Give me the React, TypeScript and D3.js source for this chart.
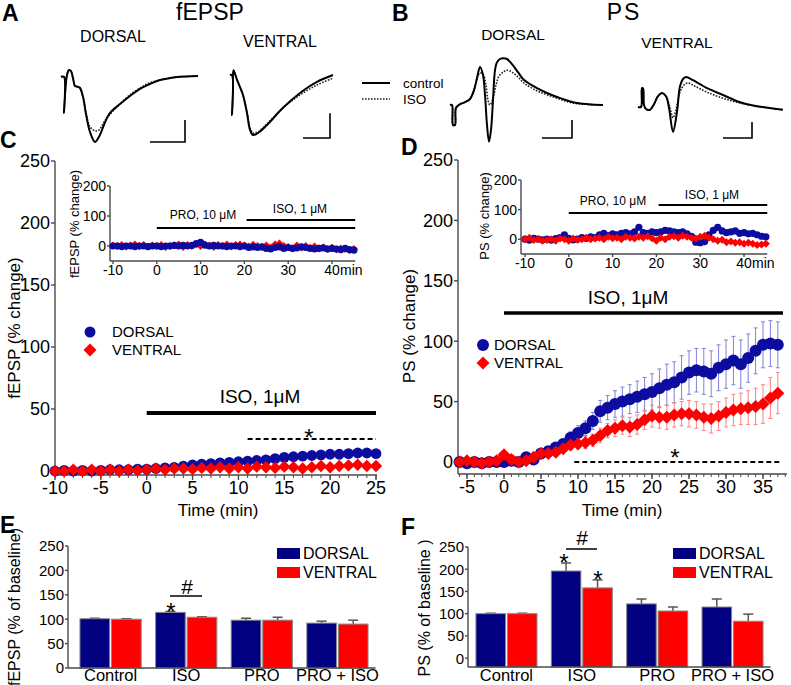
import React from 'react';
import * as d3 from 'd3';

const FONT = "'Liberation Sans', Arial, Helvetica, sans-serif";
const AXIS = '#4a4a4a';
const BAR_BLUE = '#000080';
const MARK_BLUE = '#0c0ca0';
const RED = '#ff0000';
const ERR_BLUE = '#8080dc';
const ERR_RED = '#ff8080';

// ---------- Panel A / B traces: [time (a.u.), amplitude (a.u.)] ----------
const aDorsalControl: [number, number][] = [[0,-0.02],[0.6,-0.02],[0.6,-0.92],[0.8,-0.47],[1.2,0.02],[1.6,0.15],[2.0,0.12],[2.4,-0.05],[2.8,-0.25],[3.4,-0.27],[3.8,-0.3],[4.4,-0.52],[5.0,-0.95],[5.8,-1.4],[6.8,-1.65],[7.6,-1.52],[8.6,-1.22],[9.4,-1.0],[10.2,-0.87],[11.8,-0.7],[13.8,-0.5],[15.8,-0.32],[17.8,-0.2],[19.8,-0.1],[21.8,-0.05],[23.8,-0.02],[27.4,0]];
const aDorsalIso: [number, number][] = [[0,-0.02],[0.6,-0.02],[0.6,-0.92],[0.8,-0.47],[1.2,0.02],[1.6,0.15],[2.0,0.12],[2.4,-0.05],[2.8,-0.25],[3.4,-0.27],[3.8,-0.3],[4.4,-0.52],[5.0,-0.92],[5.8,-1.27],[6.8,-1.37],[7.6,-1.35],[8.6,-1.15],[9.4,-1.02],[10.2,-0.9],[11.8,-0.7],[13.8,-0.47],[15.8,-0.3],[17.8,-0.17],[19.8,-0.1],[23.8,-0.02],[27.4,0]];
const aVentralControl: [number, number][] = [[0,0],[0.4,0],[0.4,-1.0],[0.6,-0.37],[0.7,0.12],[1.4,-0.12],[2.0,-0.3],[2.6,-0.5],[3.4,-0.95],[4.0,-1.37],[4.6,-1.5],[5.6,-1.45],[7.4,-1.25],[10.6,-0.82],[14,-0.45],[17.4,-0.17],[20.6,0]];
const aVentralIso: [number, number][] = [[0,0],[0.4,0],[0.4,-1.0],[0.6,-0.37],[0.7,0.12],[1.4,-0.12],[2.0,-0.3],[2.6,-0.5],[3.4,-0.93],[4.0,-1.32],[4.6,-1.45],[5.6,-1.42],[7.4,-1.22],[10.6,-0.82],[14,-0.5],[17.4,-0.25],[20.6,-0.08]];
const bDorsalControl: [number, number][] = [[0,0],[0.4,0],[0.6,-0.5],[1.0,-0.5],[1.2,-0.07],[2,0.02],[3,0.07],[4,0.15],[4.8,0.37],[5.4,0.67],[6,0.95],[6.6,0.75],[7,0.25],[7.4,-0.5],[7.8,-0.92],[8.2,-0.62],[8.6,0.12],[9,0.87],[9.4,1.07],[10,1.15],[10.6,1.17],[11.4,1.15],[12.4,1.02],[13.6,0.82],[14.6,0.65],[16,0.52],[17.4,0.42],[19.4,0.3],[21.4,0.2],[24.6,0.07],[27.6,0.02],[30.6,0]];
const bDorsalIso: [number, number][] = [[0,0],[0.4,0],[0.6,-0.5],[1.0,-0.5],[1.2,-0.07],[2,0.02],[3,0.07],[4,0.15],[4.8,0.37],[5.4,0.67],[6,0.8],[6.6,0.77],[7.2,0.5],[7.6,0.12],[8,0],[8.6,0.17],[9.2,0.5],[9.8,0.72],[10.6,0.82],[11.4,0.87],[12.4,0.82],[13.6,0.7],[14.6,0.57],[16,0.45],[18,0.32],[21.4,0.17],[24.6,0.05],[30.6,0]];
const bVentralControl: [number, number][] = [[0,0],[0.6,0],[0.8,0.47],[1.0,0.47],[1.2,0.05],[1.6,-0.05],[2.4,-0.07],[3.2,0.07],[4.0,0.27],[4.8,0.35],[5.6,0.27],[6.2,-0.02],[7,-0.62],[7.8,-0.12],[8.4,0.52],[9,0.7],[9.6,0.75],[11,0.67],[12.4,0.57],[13.8,0.47],[17,0.3],[20.4,0.12],[23.8,0.02],[29,-0.07]];
const bVentralIso: [number, number][] = [[0,0],[0.6,0],[0.8,0.47],[1.0,0.47],[1.2,0.05],[1.6,-0.05],[2.4,-0.07],[3.2,0.07],[4.0,0.27],[4.8,0.35],[5.6,0.27],[6.4,-0.02],[7,-0.27],[7.6,-0.07],[8.4,0.37],[9.2,0.55],[10,0.6],[11.4,0.52],[13.8,0.37],[17,0.22],[20.4,0.1],[23.8,0.02],[29,-0.07]];

// ---------- Panel C ----------
const cMainTime = d3.range(-10, 26, 1);
const cMainDorsal = [0,0.5,0,0.5,0,0.5,1,1,1,1.5,1.5,2,2.5,3,4,5,5.5,6,6.5,7,7.5,8,8.5,9,10,11,11.5,12,12.5,13,13.5,13.5,14,14.5,14.5,14];
const cMainVentral = [0,0,1,0,1,0,1,0,1,0.5,1,2,1,2,2,1.5,2.5,2,3,2,3,2,3.5,3,2.5,3.5,3,2,3,4,3,4,4.5,5,4,4];
const insetTime = d3.range(-10, 46, 1);
const cInsetDorsal = [0,0,-2,0,0,-2,0,0,-2,0, 0,-2,0,0,2,0,2,0,2,8, 12,3,0,2,0,0,-2,0,0,-2, 0,-5,-3,-5,-3,-8,-10,-5,-3,-8, -5,-8,-6,-3,-5,-8,-10,-8,-6,-10, -8,-10,-12,-8,-12,-14];
const cInsetVentral = [2,0,3,-2,2,5,0,3,-2,2, 0,3,-3,0,2,5,-3,3,0,5, 0,5,2,-3,3,0,5,-2,3,5, 2,-2,4,0,-3,2,-5,5,8,0, -3,-8,2,-5,0,-6,-2,-8,-5,-10, -6,-12,-8,-10,-14,-10];

// ---------- Panel D ----------
const dMainTime = d3.range(-6, 38, 1);
const dMainDorsal = [0,-1,0,-1,0,0,0,1,0,4, 2,7,9,12,15,20,24,28,34,42, 45,48,50,52,54,56,58,61,64,66, 70,74,76,75,73,78,81,84,81,86, 92,97,98,97];
const dMainDorsalErr = [1,1,1,1,1,1,2,2,2,2, 3,3,3,4,4,5,6,6,7,9, 10,11,12,12,13,14,15,16,17,17, 18,18,18,19,19,19,20,20,20,20, 19,19,19,19];
const dMainVentral = [0,1,0,-1,0,1,6,2,0,1, 4,7,7,8,11,14,15,16,18,22, 26,28,30,29,31,35,38,37,37,39, 40,40,39,37,36,38,41,43,44,45, 46,48,53,57];
const dMainVentralErr = [1,1,1,1,1,1,2,2,2,2, 2,3,3,3,3,4,4,5,5,6, 6,7,7,8,8,8,9,9,10,10, 10,11,11,11,12,12,12,13,13,14, 15,16,17,17];
const dInsetDorsal = [0,-3,3,0,-2,0,-3,2,5,15, 3,-2,0,5,3,8,5,15,20,12, 18,15,20,22,18,25,40,22,20,25, 22,25,30,28,25,22,25,18,10,-10, -12,-8,15,30,40,28,22,25,28,20, 22,18,20,15,10,8];
const dInsetVentral = [0,5,-3,0,-5,-3,0,-5,2,0, -5,2,-2,0,5,0,2,5,0,8, 3,5,0,8,5,2,8,5,10,3, -5,5,0,8,10,5,12,8,5,2, 8,12,5,0,-5,-2,-10,-8,-12,-10, -15,-12,-15,-20,-18,-15];

// ---------- Panels E / F ----------
const barCategories = ['Control', 'ISO', 'PRO', 'PRO + ISO'];
const eDorsal = [101, 114, 98, 92];
const eDorsalErr = [1, 2, 4, 4];
const eVentral = [100, 104, 98, 90];
const eVentralErr = [1, 1, 6, 8];
const fDorsal = [100, 196, 122, 115];
const fDorsalErr = [1, 18, 11, 18];
const fVentral = [100, 158, 106, 83];
const fVentralErr = [1, 18, 9, 16];
const barTicks = [0, 50, 100, 150, 200, 250];

// ---------- helpers ----------
const diamondPath = (cx: number, cy: number, h: number) =>
  `M${cx},${cy - h}L${cx + h},${cy}L${cx},${cy + h}L${cx - h},${cy}Z`;

function Trace({ solid, dotted, x0, y0, corner, bar }: any) {
  const xs = d3.scaleLinear().domain([0, 1]).range([x0, x0 + 5]);
  const ys = d3.scaleLinear().domain([0, 1]).range([y0, y0 - 40]);
  const line = d3.line<[number, number]>().x(d => xs(d[0])).y(d => ys(d[1])).curve(d3.curveCatmullRom.alpha(0.5));
  const bw = xs(bar[0]) - xs(0);
  const bh = ys(0) - ys(bar[1]);
  return (
    <g fill="none">
      <path d={line(dotted) || ''} stroke="#222" strokeWidth={1.6} strokeDasharray="1.6 1.4" />
      <path d={line(solid) || ''} stroke="#000" strokeWidth={2} />
      <path d={`M${corner[0] - bw},${corner[1]}H${corner[0]}V${corner[1] - bh}`} stroke="#000" strokeWidth={1.6} />
    </g>
  );
}

function YAxis({ x, yTop, yBot, scale, ticks, fs, tick = 4 }: any) {
  return (
    <g>
      <line x1={x} x2={x} y1={yTop} y2={yBot} stroke={AXIS} strokeWidth={1.4} />
      {ticks.map((t: number) => (
        <g key={t}>
          <line x1={x - tick} x2={x} y1={scale(t)} y2={scale(t)} stroke={AXIS} strokeWidth={1.4} />
          <text x={x - tick - 1} y={scale(t)} dy="0.36em" textAnchor="end" fontSize={fs}>{t}</text>
        </g>
      ))}
    </g>
  );
}

function XAxis({ y, xL, xR, scale, ticks, minor, fs, labelY, tick = 5 }: any) {
  return (
    <g>
      <line x1={xL} x2={xR} y1={y} y2={y} stroke={AXIS} strokeWidth={1.4} />
      {(minor || []).map((t: number) => (
        <line key={'m' + t} x1={scale(t)} x2={scale(t)} y1={y} y2={y + 3} stroke={AXIS} strokeWidth={1} />
      ))}
      {ticks.map((t: number) => (
        <g key={t}>
          <line x1={scale(t)} x2={scale(t)} y1={y} y2={y + tick} stroke={AXIS} strokeWidth={1.4} />
          <text x={scale(t)} y={labelY} textAnchor="middle" fontSize={fs}>{t}</text>
        </g>
      ))}
    </g>
  );
}

function Markers({ time, values, xs, ys, shape, r, color }: any) {
  return (
    <g fill={color}>
      {values.map((v: number, i: number) =>
        shape === 'circle'
          ? <circle key={i} cx={xs(time[i])} cy={ys(v)} r={r} />
          : <path key={i} d={diamondPath(xs(time[i]), ys(v), r)} />
      )}
    </g>
  );
}

function ErrorBars({ time, values, errs, xs, ys, color }: any) {
  return (
    <g stroke={color} strokeWidth={1}>
      {values.map((v: number, i: number) => {
        const x = xs(time[i]);
        const y1 = ys(v + errs[i]);
        const y2 = ys(v - errs[i]);
        return (
          <g key={i}>
            <line x1={x} x2={x} y1={y1} y2={y2} />
            <line x1={x - 2} x2={x + 2} y1={y1} y2={y1} />
            <line x1={x - 2} x2={x + 2} y1={y2} y2={y2} />
          </g>
        );
      })}
    </g>
  );
}

function Inset({ ox, oy, xAt, yAt, label, dorsal, ventral, labelX, labelY, proY, isoY, proText, isoText, minX, minY }: any) {
  const xs = d3.scaleLinear().domain([-10, 40]).range(xAt);
  const ys = d3.scaleLinear().domain([-50, 200]).range(yAt);
  return (
    <g>
      <YAxis x={ox} yTop={ys(200)} yBot={ys(-50)} scale={ys} ticks={[0, 100, 200]} fs={14} tick={3} />
      <XAxis y={oy} xL={ox} xR={xs(45.3)} scale={xs} ticks={[-10, 0, 10, 20, 30, 40]} fs={14} labelY={minY} tick={3} />
      <text x={minX} y={minY} fontSize={14}>min</text>
      <text transform={`translate(${labelX},${labelY}) rotate(-90)`} textAnchor="middle" fontSize={13}>{label}</text>
      <line x1={xs(0)} x2={xs(45.3)} y1={proY} y2={proY} stroke="#000" strokeWidth={2.2} />
      <line x1={xs(20.5)} x2={xs(45.3)} y1={isoY} y2={isoY} stroke="#000" strokeWidth={2.2} />
      <text x={proText[0]} y={proText[1]} textAnchor="middle" fontSize={12}>PRO, 10 μM</text>
      <text x={isoText[0]} y={isoText[1]} textAnchor="middle" fontSize={12}>ISO, 1 μM</text>
      {ventral.onTop ? (
        <>
          <Markers time={insetTime} values={dorsal.values} xs={xs} ys={ys} shape="circle" r={3.6} color={MARK_BLUE} />
          <Markers time={insetTime} values={ventral.values} xs={xs} ys={ys} shape="diamond" r={4} color={RED} />
        </>
      ) : (
        <>
          <Markers time={insetTime} values={ventral.values} xs={xs} ys={ys} shape="diamond" r={4} color={RED} />
          <Markers time={insetTime} values={dorsal.values} xs={xs} ys={ys} shape="circle" r={3.6} color={MARK_BLUE} />
        </>
      )}
    </g>
  );
}

function BarPanel({ x0, x1, yScale, axisX, axisBottom, dorsal, dErr, ventral, vErr, labelY }: any) {
  const outer = d3.scaleBand().domain(barCategories).range([x0, x1]).paddingInner(0.19).paddingOuter(0.1);
  const inner = d3.scaleBand().domain(['D', 'V']).range([0, outer.bandwidth()]).paddingInner(0.06);
  const base = yScale(yScale.domain()[0]);
  const bars = (vals: number[], errs: number[], key: string, color: string) =>
    barCategories.map((c, i) => {
      const bx = (outer(c) as number) + (inner(key) as number);
      const w = inner.bandwidth();
      const top = yScale(vals[i]);
      const et = yScale(vals[i] + errs[i]);
      return (
        <g key={key + c}>
          <line x1={bx + w / 2} x2={bx + w / 2} y1={top} y2={et} stroke="#555" strokeWidth={1.5} />
          <line x1={bx + w / 2 - 5} x2={bx + w / 2 + 5} y1={et} y2={et} stroke="#555" strokeWidth={1.5} />
          <rect x={bx} y={top} width={w} height={base - top} fill={color} stroke="#8a8a8a" strokeWidth={1} />
        </g>
      );
    });
  return (
    <g>
      {bars(dorsal, dErr, 'D', BAR_BLUE)}
      {bars(ventral, vErr, 'V', RED)}
      <YAxis x={axisX} yTop={yScale(250)} yBot={axisBottom} scale={yScale} ticks={barTicks} fs={15} tick={3} />
      <line x1={axisX} x2={x1} y1={axisBottom} y2={axisBottom} stroke={AXIS} strokeWidth={1.4} />
      {barCategories.map(c => (
        <text key={c} x={(outer(c) as number) + outer.bandwidth() / 2} y={labelY} textAnchor="middle" fontSize={16.5}>{c}</text>
      ))}
    </g>
  );
}

function BarLegend({ x, y }: any) {
  return (
    <g fontSize={16}>
      <rect x={x} y={y} width={23} height={11} fill={BAR_BLUE} />
      <text x={x + 26} y={y + 11}>DORSAL</text>
      <rect x={x} y={y + 19} width={23} height={11} fill={RED} />
      <text x={x + 26} y={y + 30}>VENTRAL</text>
    </g>
  );
}

export default function App() {
  const cx = d3.scaleLinear().domain([-10, 25]).range([55, 376]);
  const cy = d3.scaleLinear().domain([0, 250]).range([471, 161]);
  const dx = d3.scaleLinear().domain([-5, 35]).range([467, 763]);
  const dy = d3.scaleLinear().domain([0, 250]).range([462, 160]);
  const ey = d3.scaleLinear().domain([0, 250]).range([668, 546]);
  const fy = d3.scaleLinear().domain([-20, 250]).range([667, 547]);

  return (
    <svg width={791} height={685} style={{ position: 'absolute', left: 0, top: 0, background: '#fff' }}
      fontFamily={FONT} fill="#000">
      <g fontSize={23} fontWeight="bold">
        <text x={2} y={21}>A</text>
        <text x={392} y={21}>B</text>
        <text x={0} y={148}>C</text>
        <text x={401} y={155}>D</text>
        <text x={0} y={533}>E</text>
        <text x={401} y={535}>F</text>
      </g>

      {/* Panel A */}
      <text x={210} y={20} textAnchor="middle" fontSize={23}>fEPSP</text>
      <text x={113} y={42} textAnchor="middle" fontSize={16}>DORSAL</text>
      <text x={280} y={47} textAnchor="middle" fontSize={16}>VENTRAL</text>
      <Trace solid={aDorsalControl} dotted={aDorsalIso} x0={61} y0={76} corner={[185, 142]} bar={[7, 0.55]} />
      <Trace solid={aVentralControl} dotted={aVentralIso} x0={230} y0={75} corner={[330, 138]} bar={[5.4, 0.62]} />
      <line x1={362} x2={390} y1={83} y2={83} stroke="#000" strokeWidth={2} />
      <line x1={362} x2={390} y1={99} y2={99} stroke="#222" strokeWidth={1.6} strokeDasharray="1.6 1.4" />
      <text x={403} y={88} fontSize={13.5}>control</text>
      <text x={403} y={104} fontSize={13.5}>ISO</text>

      {/* Panel B */}
      <text x={624} y={20} textAnchor="middle" fontSize={23} letterSpacing={2}>PS</text>
      <text x={513} y={40} textAnchor="middle" fontSize={15.5}>DORSAL</text>
      <text x={677} y={48} textAnchor="middle" fontSize={15.5}>VENTRAL</text>
      <Trace solid={bDorsalControl} dotted={bDorsalIso} x0={450} y0={105} corner={[572, 138]} bar={[6, 0.45]} />
      <Trace solid={bVentralControl} dotted={bVentralIso} x0={638} y0={107} corner={[752, 138]} bar={[5.8, 0.4]} />

      {/* Panel C main */}
      <YAxis x={55} yTop={161} yBot={475} scale={cy} ticks={[0, 50, 100, 150, 200, 250]} fs={18} tick={4} />
      <XAxis y={475} xL={55} xR={377} scale={cx} ticks={[-10, -5, 0, 5, 10, 15, 20, 25]} minor={d3.range(-10, 26)} fs={18} labelY={494} />
      <text x={218} y={516} textAnchor="middle" fontSize={17}>Time (min)</text>
      <text transform="translate(20,328) rotate(-90)" textAnchor="middle" fontSize={17}>fEPSP (% change)</text>
      <line x1={cx(0)} x2={cx(25)} y1={413} y2={413} stroke="#000" strokeWidth={4} />
      <text x={260} y={403} textAnchor="middle" fontSize={19}>ISO, 1μM</text>
      <line x1={cx(11)} x2={cx(25)} y1={439} y2={439} stroke="#000" strokeWidth={2} strokeDasharray="5 3" />
      <text x={309} y={446} textAnchor="middle" fontSize={24}>*</text>
      <Markers time={cMainTime} values={cMainDorsal} xs={cx} ys={cy} shape="circle" r={5.4} color={MARK_BLUE} />
      <Markers time={cMainTime} values={cMainVentral} xs={cx} ys={cy} shape="diamond" r={6.2} color={RED} />
      <g fontSize={15}>
        <circle cx={90} cy={332} r={5.5} fill={MARK_BLUE} />
        <text x={112} y={337}>DORSAL</text>
        <path d={diamondPath(90, 350, 6.5)} fill={RED} />
        <text x={112} y={355}>VENTRAL</text>
      </g>
      <Inset ox={110} oy={261} xAt={[113, 332]} yAt={[261, 186]} label="fEPSP (% change)"
        dorsal={{ values: cInsetDorsal }} ventral={{ values: cInsetVentral, onTop: false }}
        labelX={79} labelY={224} proY={228} isoY={220} proText={[203, 219]} isoText={[300, 213]}
        minX={340} minY={275} />

      {/* Panel D main */}
      <YAxis x={458} yTop={160} yBot={474} scale={dy} ticks={[0, 50, 100, 150, 200, 250]} fs={18} tick={4} />
      <XAxis y={474} xL={458} xR={787} scale={dx} ticks={[-5, 0, 5, 10, 15, 20, 25, 30, 35]} minor={d3.range(-6, 39)} fs={18} labelY={493} />
      <text x={622} y={516} textAnchor="middle" fontSize={17}>Time (min)</text>
      <text transform="translate(415,326) rotate(-90)" textAnchor="middle" fontSize={17}>PS (% change)</text>
      <line x1={dx(0)} x2={783} y1={313} y2={313} stroke="#000" strokeWidth={3.5} />
      <text x={628} y={304} textAnchor="middle" fontSize={19}>ISO, 1μM</text>
      <line x1={dx(9.5)} x2={781} y1={462} y2={462} stroke="#000" strokeWidth={2} strokeDasharray="5 3" />
      <text x={675} y={466} textAnchor="middle" fontSize={24}>*</text>
      <ErrorBars time={dMainTime} values={dMainDorsal} errs={dMainDorsalErr} xs={dx} ys={dy} color={ERR_BLUE} />
      <ErrorBars time={dMainTime} values={dMainVentral} errs={dMainVentralErr} xs={dx} ys={dy} color={ERR_RED} />
      <Markers time={dMainTime} values={dMainDorsal} xs={dx} ys={dy} shape="circle" r={6} color={MARK_BLUE} />
      <Markers time={dMainTime} values={dMainVentral} xs={dx} ys={dy} shape="diamond" r={6.5} color={RED} />
      <g fontSize={15}>
        <circle cx={483} cy={345} r={6} fill={MARK_BLUE} />
        <text x={494} y={350}>DORSAL</text>
        <path d={diamondPath(483, 363, 6.5)} fill={RED} />
        <text x={494} y={368}>VENTRAL</text>
      </g>
      <Inset ox={521} oy={254} xAt={[525, 744]} yAt={[254, 180]} label="PS (% change)"
        dorsal={{ values: dInsetDorsal }} ventral={{ values: dInsetVentral, onTop: true }}
        labelX={489} labelY={216} proY={213} isoY={205} proText={[613, 205]} isoText={[712, 199]}
        minX={752} minY={268} />

      {/* Panel E */}
      <BarPanel x0={72.4} x1={375.6} yScale={ey} axisX={68} axisBottom={668}
        dorsal={eDorsal} dErr={eDorsalErr} ventral={eVentral} vErr={eVentralErr} labelY={681} />
      <text transform="translate(20,607) rotate(-90)" textAnchor="middle" fontSize={16}>fEPSP (% of baseline)</text>
      <line x1={170} x2={202} y1={596} y2={596} stroke="#000" strokeWidth={1.5} />
      <text x={187} y={594} textAnchor="middle" fontSize={21}>#</text>
      <text x={171} y={620} textAnchor="middle" fontSize={24}>*</text>
      <BarLegend x={277} y={548} />

      {/* Panel F */}
      <BarPanel x0={468.4} x1={770.6} yScale={fy} axisX={468} axisBottom={667}
        dorsal={fDorsal} dErr={fDorsalErr} ventral={fVentral} vErr={fVentralErr} labelY={681} />
      <text transform="translate(430,608) rotate(-90)" textAnchor="middle" fontSize={16}>PS (% of baseline )</text>
      <line x1={566} x2={597} y1={549} y2={549} stroke="#000" strokeWidth={1.5} />
      <text x={582} y={545} textAnchor="middle" fontSize={21}>#</text>
      <text x={564} y={571} textAnchor="middle" fontSize={24}>*</text>
      <text x={598} y={588} textAnchor="middle" fontSize={24}>*</text>
      <BarLegend x={673} y={548} />
    </svg>
  );
}
